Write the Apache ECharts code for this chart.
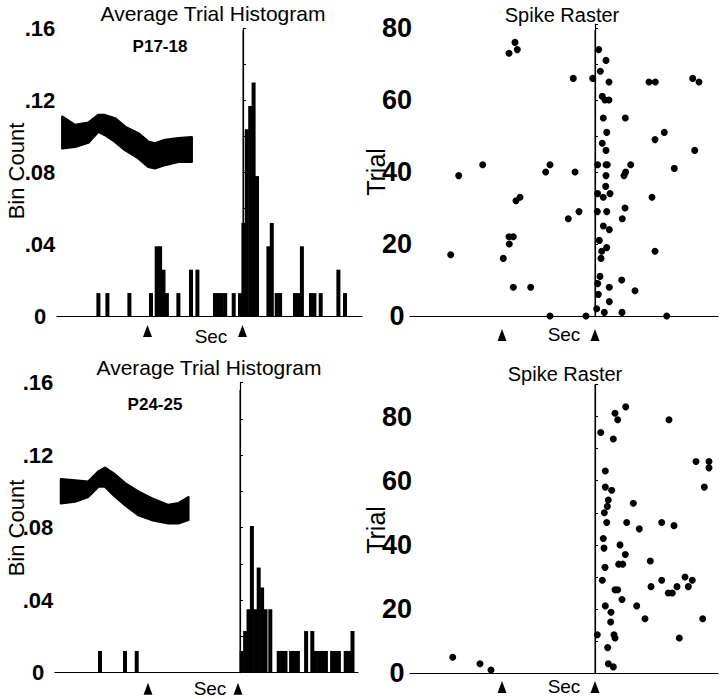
<!DOCTYPE html>
<html><head><meta charset="utf-8">
<script src="https://cdn.jsdelivr.net/npm/echarts@6/dist/echarts.min.js"></script>
<style>html,body{margin:0;padding:0;background:#fff}#c{width:720px;height:699px}</style>
</head><body><div id="c"></div>
<script>
// ===== DATA (time in ms relative to the stimulus line; bin width in ms) =====
const BIN_MS = 34;
const histTickValues = [0, 0.04, 0.08, 0.12, 0.16];
const histTickLabels = ['0', '.04', '.08', '.12', '.16'];
const rasterTickValues = [0, 20, 40, 60, 80];
const rasterTickLabels = ['0', '20', '40', '60', '80'];

// P17-18 histogram: bin start (ms) and bin count
const p1718BinStarts = [-1463,-1373,-1153,-937,-880,-846,-812,-778,-663,-537,-473,-297,-263,-229,-195,-110,-47,
  -13,21,55,89,123,237,271,320,354,503,537,572,663,697,760,937,1003];
const p1718BinValues = [0.013,0.013,0.013,0.013,0.039,0.039,0.026,0.013,0.013,0.026,0.026,0.013,0.013,0.013,0.013,0.013,0.013,
  0.052,0.104,0.117,0.130,0.078,0.039,0.052,0.013,0.013,0.013,0.013,0.039,0.013,0.013,0.013,0.026,0.013];

// P24-25 histogram
const p2425BinStarts = [-1417,-1167,-1050,0,34,68,102,136,170,204,238,286,370,404,438,494,528,562,644,706,
  740,774,808,842,904,938,972,1040,1074,1108];
const p2425BinValues = [0.012,0.012,0.012,0.012,0.023,0.035,0.081,0.035,0.058,0.047,0.035,0.035,0.012,0.012,0.012,0.012,0.012,0.012,0.023,0.023,
  0.012,0.012,0.012,0.012,0.012,0.012,0.012,0.012,0.012,0.023];

// Waveform insets (envelope of overlaid traces), in histogram axis units
const p1718WaveT     = [-1807,-1680,-1547,-1447,-1380,-1280,-1180,-1047,-947,-880,-780,-647,-513];
const p1718WaveUpper = [0.1110,0.1064,0.1077,0.1119,0.1119,0.1101,0.1054,0.1018,0.0971,0.0962,0.0981,0.0990,0.0996];
const p1718WaveLower = [0.0934,0.0943,0.0966,0.1027,0.1008,0.0971,0.0925,0.0879,0.0832,0.0823,0.0842,0.0860,0.0860];

const p2425WaveT     = [-1790,-1650,-1517,-1417,-1350,-1267,-1150,-1017,-883,-717,-617,-517];
const p2425WaveUpper = [0.1067,0.1060,0.1054,0.1109,0.1131,0.1100,0.1045,0.0999,0.0962,0.0925,0.0935,0.0968];
const p2425WaveLower = [0.0935,0.0944,0.0971,0.1027,0.1027,0.0981,0.0925,0.0870,0.0843,0.0824,0.0824,0.0843];

// Spike rasters: [time ms, trial]
const p1718Spikes = [[-800,76],[-777,74],[-860,73],[37,74],[110,71],[-217,66],[-23,66],[53,68],[140,65],[540,65],[603,65],[977,66],[1040,65],
  [73,61],[100,60],[140,60],[83,55],[303,55],[117,51],[693,51],[600,49],[73,48],[110,46],[997,46],
  [-1363,39],[-1123,42],[-493,40],[-450,42],[-200,40],[27,42],[110,42],[123,42],[110,39],[290,39],[307,40],[357,42],[793,41],
  [-790,32],[-750,33],[27,34],[83,33],[107,36],[150,34],[300,30],[570,33],[23,29],[117,29],[-267,27],[-160,29],[83,25],[143,24],[273,27],
  [-860,22],[-817,22],[-857,20],[43,21],[117,19],[67,18],[60,16],[600,18],[-1443,17],[-917,16],
  [-817,8],[-643,8],[50,11],[27,9],[143,8],[267,10],[400,7],[33,6],[143,4],[17,2],[93,1],[270,1],[-450,0],[-90,0],[717,0]];
const p2425Spikes = [[-1423,5],[-1150,3],[-1040,1],[23,12],[57,75],[200,81],[227,79],[307,83],[183,73],[740,79],[103,63],[103,58],[167,57],
  [133,54],[123,52],[93,50],[117,47],[383,53],[317,47],[443,45],[667,47],[790,46],[1010,66],[1140,66],[1140,64],[1093,58],
  [83,42],[90,39],[250,40],[303,37],[100,33],[237,34],[277,34],[553,35],[73,29],[200,26],[227,26],[560,27],[667,29],[733,25],
  [773,25],[820,27],[900,30],[933,27],[973,29],[103,21],[270,23],[417,21],[160,19],[500,17],[1077,17],[157,16],[190,12],
  [200,11],[843,11],[127,8],[133,3],[183,2]];

// Event markers (arrows under the time axis), ms
const p1718HistArrows = [-955, -5];
const p2425HistArrows = [-920, -20];
const rasterArrows = [-930, 0];

// ===== CHART =====
const FONT = "'Liberation Sans',Arial,Helvetica,sans-serif";
const chart = echarts.init(document.getElementById('c'), null, {renderer: 'svg'});

function histY(grid) {
  return {gridIndex: grid, type: 'value', min: 0, max: 0.16, interval: 0.02,
    axisLine: {show: true, lineStyle: {color: '#000', width: 1.2}},
    axisTick: {show: true, inside: true, length: 3, lineStyle: {color: '#000'}},
    splitLine: {show: false},
    axisLabel: {color: '#000', fontFamily: FONT, fontWeight: 'bold', fontSize: 22, align: 'center', margin: 17,
      formatter: v => { const i = histTickValues.findIndex(t => Math.abs(t - v) < 1e-9); return i >= 0 ? histTickLabels[i] : ''; }}};
}
function rasterY(grid, max) {
  return {gridIndex: grid, type: 'value', min: 0, max: max, interval: 10,
    axisLine: {show: true, lineStyle: {color: '#000', width: 1.2}},
    axisTick: {show: true, inside: true, length: 3, lineStyle: {color: '#000'}},
    splitLine: {show: false},
    axisLabel: {color: '#000', fontFamily: FONT, fontWeight: 'bold', fontSize: 27, align: 'center', margin: 13,
      formatter: v => { const i = rasterTickValues.indexOf(v); return i >= 0 ? rasterTickLabels[i] : ''; }}};
}
function timeX(grid, min, max) {
  return {gridIndex: grid, type: 'value', min: min, max: max,
    axisLine: {show: true, onZero: false, lineStyle: {color: '#000', width: 1.2}},
    axisTick: {show: false}, axisLabel: {show: false}, splitLine: {show: false}};
}
function bars(idx, starts, values) {
  return {type: 'custom', xAxisIndex: idx, yAxisIndex: idx,
    data: starts.map((t, i) => [t, values[i]]),
    renderItem: (params, api) => {
      const a = api.coord([api.value(0), api.value(1)]);
      const b = api.coord([api.value(0) + BIN_MS, 0]);
      return {type: 'rect', shape: {x: a[0] - 0.3, y: a[1], width: b[0] - a[0] + 0.6, height: b[1] - a[1]},
        style: {fill: '#000'}};
    }};
}
function wave(idx, ts, up, lo) {
  return {type: 'custom', xAxisIndex: idx, yAxisIndex: idx, data: [[ts[0], up[0]]], clip: false,
    renderItem: (params, api) => {
      const pts = [];
      for (let i = 0; i < ts.length; i++) pts.push(api.coord([ts[i], up[i]]));
      for (let i = ts.length - 1; i >= 0; i--) pts.push(api.coord([ts[i], lo[i]]));
      return {type: 'polygon', shape: {points: pts}, style: {fill: '#000', stroke: '#000', lineWidth: 2.5, lineJoin: 'round'}};
    }};
}
function stimLine(idx, top) {
  return {type: 'line', xAxisIndex: idx, yAxisIndex: idx, data: [[0, 0], [0, top]], symbol: 'none',
    lineStyle: {color: '#000', width: 1}, silent: true};
}
function arrows(idx, ts, yv) {
  return {type: 'scatter', xAxisIndex: idx, yAxisIndex: idx, clip: false, symbol: 'triangle', symbolSize: [9, 12],
    itemStyle: {color: '#000', opacity: 1}, data: ts.map(t => [t, yv]), silent: true};
}
function spikes(idx, data) {
  return {type: 'scatter', xAxisIndex: idx, yAxisIndex: idx, symbol: 'circle', symbolSize: 7,
    itemStyle: {color: '#000', opacity: 1}, data: data, clip: false};
}

function txt(x, y, text, size, weight, rot) {
  return {type: 'text', x: x, y: y, rotation: rot || 0,
    style: {text: text, fill: '#000', font: (weight || 'normal') + ' ' + size + 'px ' + FONT, align: 'center', verticalAlign: 'middle'}};
}

chart.setOption({
  animation: false,
  backgroundColor: '#fff',
  grid: [
    {left: 57, right: 358, top: 28.5, bottom: 382.5, containLabel: false, outerBoundsMode: 'none'},
    {left: 410, right: 2, top: 24.4, bottom: 383, containLabel: false, outerBoundsMode: 'none'},
    {left: 55, right: 362, top: 382.7, bottom: 26.3, containLabel: false, outerBoundsMode: 'none'},
    {left: 410, right: 2, top: 384.4, bottom: 25.7, containLabel: false, outerBoundsMode: 'none'}
  ],
  xAxis: [timeX(0, -1860, 1190), timeX(1, -1850, 1230), timeX(2, -1850, 1180), timeX(3, -1850, 1230)],
  yAxis: [histY(0), rasterY(1, 81), histY(2), rasterY(3, 90)],
  series: [
    bars(0, p1718BinStarts, p1718BinValues),
    wave(0, p1718WaveT, p1718WaveUpper, p1718WaveLower),
    stimLine(0, 0.159),
    arrows(0, p1718HistArrows, -0.008),
    spikes(1, p1718Spikes),
    stimLine(1, 79.4),
    arrows(1, rasterArrows, -5.3),
    bars(2, p2425BinStarts, p2425BinValues),
    wave(2, p2425WaveT, p2425WaveUpper, p2425WaveLower),
    stimLine(2, 0.156),
    arrows(2, p2425HistArrows, -0.0088),
    spikes(3, p2425Spikes),
    stimLine(3, 90),
    arrows(3, rasterArrows, -4.3)
  ],
  graphic: [
    txt(213, 13, 'Average Trial Histogram', 21),
    txt(562, 15, 'Spike Raster', 20),
    txt(160, 46, 'P17-18', 17, 'bold'),
    txt(16, 171, 'Bin Count', 22, 'normal', Math.PI / 2),
    txt(376, 172, 'Trial', 25, 'normal', Math.PI / 2),
    txt(211, 336, 'Sec', 19),
    txt(564, 334, 'Sec', 19),
    txt(209, 367, 'Average Trial Histogram', 21),
    txt(565, 374, 'Spike Raster', 20),
    txt(155, 404, 'P24-25', 17, 'bold'),
    txt(16, 528, 'Bin Count', 22, 'normal', Math.PI / 2),
    txt(376, 530, 'Trial', 25, 'normal', Math.PI / 2),
    txt(210, 688, 'Sec', 19),
    txt(564, 686, 'Sec', 19)
  ]
});
</script></body></html>
